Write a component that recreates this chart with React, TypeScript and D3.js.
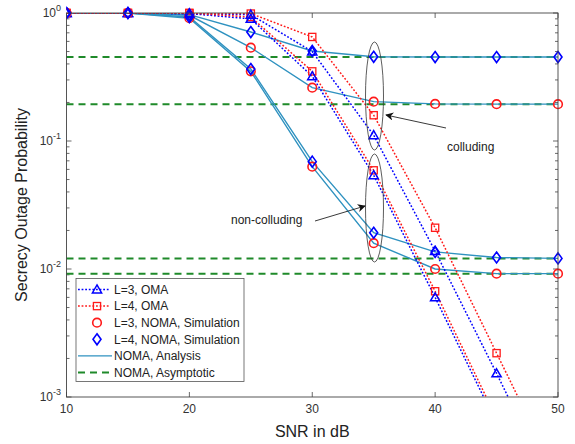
import React from "react";
import * as d3 from "d3";

const snr = [10, 15, 20, 25, 30, 35, 40, 45, 50];
const omaL3Colluding = [1, 1, 0.99, 0.97, 0.5, 0.111, 0.0138, 0.00153, 0.00016];
const omaL4Colluding = [1, 1, 1, 0.99, 0.65, 0.159, 0.021, 0.0022, 0.00023];
const omaL3NonColluding = [1, 1, 0.99, 0.9, 0.32, 0.054, 0.006, 0.00062, 0.00006];
const omaL4NonColluding = [1, 1, 1, 0.93, 0.35, 0.059, 0.0067, 0.00068, 0.00007];
const nomaL4Colluding = [1, 1, 0.97, 0.71, 0.505, 0.455, 0.453, 0.453, 0.453];
const nomaL3Colluding = [1, 1, 0.96, 0.536, 0.261, 0.203, 0.195, 0.194, 0.194];
const nomaL4NonColluding = [1, 1, 0.93, 0.365, 0.069, 0.0192, 0.0136, 0.0123, 0.0121];
const nomaL3NonColluding = [1, 1, 0.91, 0.35, 0.063, 0.0159, 0.01, 0.0092, 0.0092];
const asymptotic = [0.453, 0.194, 0.0121, 0.0092];
const xTicks = [10, 20, 30, 40, 50];
const yTickExps = [0, -1, -2, -3];
const legendLabels = [
  "L=3, OMA",
  "L=4, OMA",
  "L=3, NOMA, Simulation",
  "L=4, NOMA, Simulation",
  "NOMA, Analysis",
  "NOMA, Asymptotic",
];

const W = 575, H = 444;
const L = 66.5, R = 558, T = 13, B = 397;
const BLUE = "#0000ff", RED = "#ff1a1a", TEAL = "#2f92c0", GREEN = "#1f8a2a", AX = "#444";
const FONT = "Liberation Sans, Arial, sans-serif";

const x = d3.scaleLinear().domain([10, 50]).range([L, R]);
const y = d3.scaleLog().domain([1e-3, 1]).range([B, T]);

const line = d3.line<[number, number]>().x((d) => x(d[0])).y((d) => y(d[1]));
const pts = (vals: number[]) => snr.map((s, i) => [s, vals[i]] as [number, number]);

function Triangle({ cx, cy }: { cx: number; cy: number }) {
  const s = 4.6;
  return <path d={`M${cx},${cy - s}L${cx + s},${cy + s * 0.75}L${cx - s},${cy + s * 0.75}Z`} fill="none" stroke={BLUE} strokeWidth={1.5} />;
}
function Square({ cx, cy }: { cx: number; cy: number }) {
  const s = 3.6;
  return <rect x={cx - s} y={cy - s} width={2 * s} height={2 * s} fill="none" stroke={RED} strokeWidth={1.3} />;
}
function Circle({ cx, cy }: { cx: number; cy: number }) {
  return <circle cx={cx} cy={cy} r={4.3} fill="none" stroke={RED} strokeWidth={1.6} />;
}
function Diamond({ cx, cy }: { cx: number; cy: number }) {
  const w = 4, h = 5.5;
  return <path d={`M${cx},${cy - h}L${cx + w},${cy}L${cx},${cy + h}L${cx - w},${cy}Z`} fill="none" stroke={BLUE} strokeWidth={1.6} />;
}

type MK = typeof Triangle;

function Markers({ vals, M }: { vals: number[]; M: MK }) {
  return (
    <g>
      {snr.map((s, i) =>
        vals[i] >= 1e-3 ? <M key={i} cx={x(s)} cy={y(vals[i])} /> : null
      )}
    </g>
  );
}

export default function App() {
  const minor: number[] = [];
  for (let e = -3; e < 0; e++) for (let k = 2; k <= 9; k++) minor.push(k * Math.pow(10, e));

  const lgX = 76, lgY = 278.5, lgW = 168, lgH = 103;
  const rowY = (i: number) => lgY + 11 + i * 16.6;

  return (
    <svg width={W} height={H} style={{ position: "absolute", left: 0, top: 0, background: "#fff" }} fontFamily={FONT}>
      <defs>
        <clipPath id="plot">
          <rect x={L} y={T - 8} width={R - L + 8} height={B - T + 8} />
        </clipPath>
        <clipPath id="plotLines">
          <rect x={L} y={T} width={R - L} height={B - T} />
        </clipPath>
        <marker id="arr" viewBox="0 0 10 10" refX="9" refY="5" markerWidth="9" markerHeight="9" orient="auto-start-reverse">
          <path d="M0,0L10,5L0,10L3,5Z" fill="#111" />
        </marker>
      </defs>
      <rect x={0} y={0} width={W} height={H} fill="#fff" />

      {/* ticks */}
      <g stroke={AX} strokeWidth={0.8}>
        {xTicks.map((t) => (
          <g key={t}>
            <line x1={x(t)} x2={x(t)} y1={B} y2={B - 5} />
            <line x1={x(t)} x2={x(t)} y1={T} y2={T + 5} />
          </g>
        ))}
        {yTickExps.map((e) => (
          <g key={e}>
            <line x1={L} x2={L + 5} y1={y(Math.pow(10, e))} y2={y(Math.pow(10, e))} />
            <line x1={R} x2={R - 5} y1={y(Math.pow(10, e))} y2={y(Math.pow(10, e))} />
          </g>
        ))}
        {minor.map((m, i) => (
          <g key={i}>
            <line x1={L} x2={L + 3} y1={y(m)} y2={y(m)} />
            <line x1={R} x2={R - 3} y1={y(m)} y2={y(m)} />
          </g>
        ))}
      </g>

      {/* asymptotic */}
      <g stroke={GREEN} strokeWidth={2} strokeDasharray="7,5">
        {asymptotic.map((a, i) => (
          <line key={i} x1={x(10)} x2={x(50)} y1={y(a)} y2={y(a)} />
        ))}
      </g>

      <g clipPath="url(#plotLines)" fill="none">
        {[nomaL4Colluding, nomaL3Colluding, nomaL4NonColluding, nomaL3NonColluding].map((v, i) => (
          <path key={"n" + i} d={line(pts(v)) || ""} stroke={TEAL} strokeWidth={1.4} />
        ))}
        {[omaL3Colluding, omaL3NonColluding].map((v, i) => (
          <path key={"b" + i} d={line(pts(v)) || ""} stroke={BLUE} strokeWidth={1.5} strokeDasharray="1.8,1.8" />
        ))}
        {[omaL4Colluding, omaL4NonColluding].map((v, i) => (
          <path key={"r" + i} d={line(pts(v)) || ""} stroke={RED} strokeWidth={1.5} strokeDasharray="1.8,1.8" />
        ))}
      </g>

      <g clipPath="url(#plot)">
        <Markers vals={omaL4Colluding} M={Square} />
        <Markers vals={omaL4NonColluding} M={Square} />
        <Markers vals={omaL3Colluding} M={Triangle} />
        <Markers vals={omaL3NonColluding} M={Triangle} />
        <Markers vals={nomaL3Colluding} M={Circle} />
        <Markers vals={nomaL3NonColluding} M={Circle} />
        <Markers vals={nomaL4Colluding} M={Diamond} />
        <Markers vals={nomaL4NonColluding} M={Diamond} />
      </g>

      {/* annotations */}
      <ellipse cx={374.5} cy={96} rx={9} ry={54} fill="none" stroke="#333" strokeWidth={0.8} />
      <ellipse cx={374.5} cy={208} rx={9} ry={54} fill="none" stroke="#333" strokeWidth={0.8} />
      <line x1={446} y1={128} x2={386} y2={115} stroke="#222" strokeWidth={0.9} markerEnd="url(#arr)" />
      <line x1={315} y1={221} x2={365} y2={206} stroke="#222" strokeWidth={0.9} markerEnd="url(#arr)" />
      <text x={447} y={151} fontSize={12} fill="#222">colluding</text>
      <text x={231} y={224} fontSize={12} fill="#222">non-colluding</text>

      {/* frame */}
      <rect x={L} y={T} width={R - L} height={B - T} fill="none" stroke={AX} strokeWidth={0.9} />

      {/* tick labels */}
      <g fontSize={12} fill="#333">
        {xTicks.map((t) => (
          <text key={t} x={x(t)} y={413} textAnchor="middle">{t}</text>
        ))}
        {yTickExps.map((e) => (
          <text key={e} x={61} y={y(Math.pow(10, e)) + 4} textAnchor="end">
            10<tspan fontSize={9} dy={-6}>{e}</tspan>
          </text>
        ))}
      </g>

      <text x={(L + R) / 2} y={437} textAnchor="middle" fontSize={16} fill="#222">SNR in dB</text>
      <text transform={`translate(27,${(T + B) / 2}) rotate(-90)`} textAnchor="middle" fontSize={16} fill="#222">
        Secrecy Outage Probability
      </text>

      {/* legend */}
      <rect x={lgX} y={lgY} width={lgW} height={lgH} fill="#fff" stroke="#555" strokeWidth={0.8} />
      <g>
        <line x1={78} x2={110} y1={rowY(0)} y2={rowY(0)} stroke={BLUE} strokeWidth={1.5} strokeDasharray="1.8,1.8" />
        <Triangle cx={97} cy={rowY(0)} />
        <line x1={78} x2={110} y1={rowY(1)} y2={rowY(1)} stroke={RED} strokeWidth={1.5} strokeDasharray="1.8,1.8" />
        <Square cx={97} cy={rowY(1)} />
        <Circle cx={97} cy={rowY(2)} />
        <Diamond cx={97} cy={rowY(3)} />
        <line x1={78} x2={112} y1={rowY(4)} y2={rowY(4)} stroke={TEAL} strokeWidth={1.4} />
        <line x1={78} x2={112} y1={rowY(5)} y2={rowY(5)} stroke={GREEN} strokeWidth={2} strokeDasharray="7,5" />
        {legendLabels.map((lb, i) => (
          <text key={i} x={114} y={rowY(i) + 4.2} fontSize={12} fill="#222">{lb}</text>
        ))}
      </g>
    </svg>
  );
}
